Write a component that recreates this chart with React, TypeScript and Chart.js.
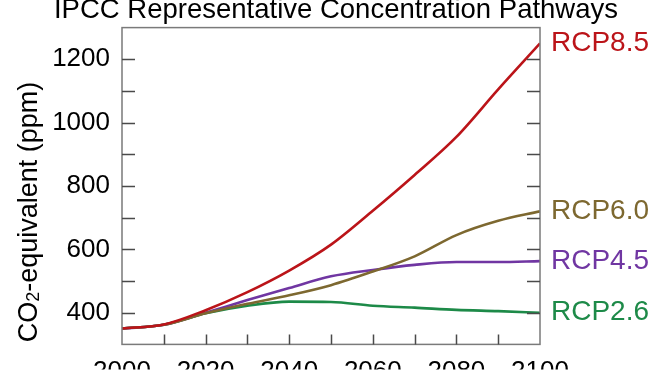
import { useEffect, useRef } from 'react';
import { Chart, registerables } from 'chart.js';

Chart.register(...registerables);

const years = [2000, 2010, 2020, 2030, 2040, 2050, 2060, 2070, 2080, 2090, 2100];
const rcp85 = [350, 363, 408, 465, 533, 615, 722, 835, 955, 1105, 1250];
const rcp60 = [350, 362, 398, 428, 455, 487, 530, 578, 645, 690, 720];
const rcp45 = [350, 362, 400, 440, 478, 515, 535, 551, 560, 560, 563];
const rcp26 = [350, 362, 398, 422, 435, 434, 422, 416, 409, 405, 400];

const seriesNames = ['RCP8.5', 'RCP6.0', 'RCP4.5', 'RCP2.6'];
const seriesValues = [rcp85, rcp60, rcp45, rcp26];
const seriesColors = ['#bb1419', '#7d6830', '#7036a2', '#1d8a48'];

const yTickLabels = [400, 600, 800, 1000, 1200];
const xTickLabels = [2000, 2020, 2040, 2060, 2080, 2100];

const titleText = 'IPCC Representative Concentration Pathways';
const yTitleMain = 'CO';
const yTitleSub = '2';
const yTitleRest = '-equivalent (ppm)';

const FONT = "'Liberation Sans', Arial, sans-serif";

const decorPlugin = {
  id: 'decor',
  afterDatasetsDraw(chart: any) {
    const { ctx, chartArea, scales } = chart;
    const x = scales.x;
    const y = scales.y;
    ctx.save();
    // frame
    ctx.strokeStyle = '#7a7a7a';
    ctx.lineWidth = 1.5;
    ctx.strokeRect(chartArea.left, chartArea.top, chartArea.right - chartArea.left, chartArea.bottom - chartArea.top);
    // inward ticks
    ctx.strokeStyle = '#4a4a4a';
    ctx.lineWidth = 1.5;
    ctx.beginPath();
    y.ticks.forEach((t: any) => {
      if (t.value <= y.min || t.value >= y.max) return;
      const py = Math.round(y.getPixelForValue(t.value)) + 0.5;
      ctx.moveTo(chartArea.left, py);
      ctx.lineTo(chartArea.left + 13, py);
      ctx.moveTo(chartArea.right, py);
      ctx.lineTo(chartArea.right - 13, py);
    });
    x.ticks.forEach((t: any) => {
      if (t.value <= x.min || t.value >= x.max) return;
      const px = Math.round(x.getPixelForValue(t.value)) + 0.5;
      ctx.moveTo(px, chartArea.bottom);
      ctx.lineTo(px, chartArea.bottom - 10);
    });
    ctx.stroke();

    // series labels at line ends
    ctx.font = `28px ${FONT}`;
    ctx.textAlign = 'left';
    ctx.textBaseline = 'middle';
    seriesNames.forEach((name, i) => {
      const vals = seriesValues[i];
      const py = y.getPixelForValue(vals[vals.length - 1]);
      ctx.fillStyle = seriesColors[i];
      ctx.fillText(name, chartArea.right + 11, py);
    });

    // title
    ctx.fillStyle = '#000';
    ctx.textAlign = 'center';
    ctx.textBaseline = 'alphabetic';
    ctx.font = `27.5px ${FONT}`;
    ctx.fillText(titleText, 336, 18);

    // y axis title (rotated, with subscript)
    ctx.translate(37, 212);
    ctx.rotate(-Math.PI / 2);
    ctx.textAlign = 'left';
    const mainFont = `27px ${FONT}`;
    const subFont = `18px ${FONT}`;
    ctx.font = mainFont;
    const w1 = ctx.measureText(yTitleMain).width;
    const w3 = ctx.measureText(yTitleRest).width;
    ctx.font = subFont;
    const w2 = ctx.measureText(yTitleSub).width;
    const total = w1 + w2 + w3;
    let cx = -total / 2;
    ctx.font = mainFont;
    ctx.fillText(yTitleMain, cx, 0);
    cx += w1;
    ctx.font = subFont;
    ctx.fillText(yTitleSub, cx, 2);
    cx += w2;
    ctx.font = mainFont;
    ctx.fillText(yTitleRest, cx, 0);
    ctx.restore();
  },
};

export default function App() {
  const ref = useRef<HTMLCanvasElement>(null);
  useEffect(() => {
    document.body.style.margin = '0';
    document.body.style.overflow = 'hidden';
    const canvas = ref.current;
    if (!canvas) return;
    const chart = new Chart(canvas, {
      type: 'line',
      data: {
        datasets: seriesNames.map((name, i) => ({
          label: name,
          data: years.map((yr, j) => ({ x: yr, y: seriesValues[i][j] })),
          borderColor: seriesColors[i],
          backgroundColor: seriesColors[i],
          borderWidth: 2.6,
          pointRadius: 0,
          cubicInterpolationMode: 'monotone' as const,
          fill: false,
        })),
      },
      options: {
        animation: false,
        responsive: false,
        layout: { padding: { top: 27, left: 0, right: 0, bottom: 0 } },
        plugins: {
          legend: { display: false },
          title: { display: false },
          tooltip: { enabled: false },
        },
        scales: {
          x: {
            type: 'linear',
            min: 2000,
            max: 2100,
            border: { display: false },
            grid: { display: false, drawTicks: false },
            ticks: {
              stepSize: 10,
              autoSkip: false,
              maxRotation: 0,
              padding: 12,
              color: '#000',
              font: { family: FONT, size: 26 },
              callback: (v: any) => (xTickLabels.includes(Number(v)) ? String(v) : ''),
            },
            afterFit: (s: any) => {
              s.height = 25;
            },
          },
          y: {
            type: 'linear',
            min: 300,
            max: 1300,
            border: { display: false },
            grid: { display: false, drawTicks: false },
            ticks: {
              stepSize: 100,
              autoSkip: false,
              padding: 12,
              color: '#000',
              font: { family: FONT, size: 26 },
              callback: (v: any) => (yTickLabels.includes(Number(v)) ? String(v) : ''),
            },
            afterFit: (s: any) => {
              s.width = 122;
            },
          },
          y2: {
            type: 'linear',
            position: 'right',
            min: 300,
            max: 1300,
            border: { display: false },
            grid: { display: false, drawTicks: false },
            ticks: { display: false },
            afterFit: (s: any) => {
              s.width = 132;
            },
          },
        },
      },
      plugins: [decorPlugin],
    });
    return () => chart.destroy();
  }, []);
  return (
    <canvas
      ref={ref}
      width={672}
      height={372}
      style={{ position: 'fixed', left: 0, top: 0, width: 672, height: 372, display: 'block' }}
    />
  );
}
